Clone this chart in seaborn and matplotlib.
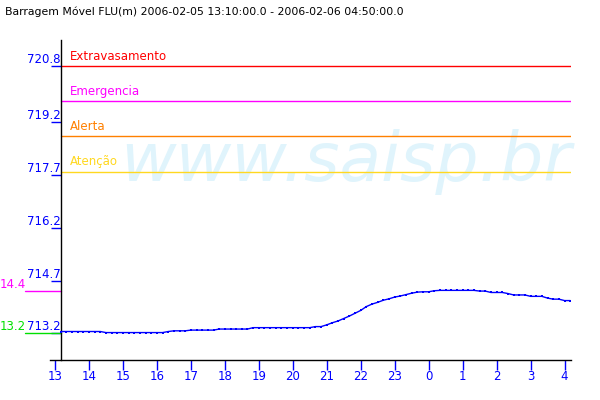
import matplotlib
matplotlib.use("Agg")
import matplotlib.pyplot as plt
import seaborn as sns
import pandas as pd
import numpy as np

# Chart data
title = "Barragem Móvel FLU(m) 2006-02-05 13:10:00.0 - 2006-02-06 04:50:00.0"

# water level (m), one reading every 10 min starting 13:10
levels = [
    713.25, 713.25, 713.25, 713.25, 713.25, 713.25, 713.25, 713.25,          # 13:10-14:20
    713.22, 713.22, 713.22, 713.22, 713.22, 713.22, 713.22, 713.22,          # 14:30-15:40
    713.22, 713.22, 713.22,                                                  # 15:50-16:10
    713.25, 713.27, 713.27, 713.27,                                          # 16:20-16:50
    713.29, 713.29, 713.29, 713.29, 713.29,                                  # 17:00-17:40
    713.32, 713.32, 713.32, 713.32, 713.32, 713.32,                          # 17:50-18:40
    713.36, 713.36, 713.36, 713.36, 713.36, 713.36, 713.36, 713.36, 713.36,  # 18:50-20:10
    713.36, 713.36,                                                          # 20:20-20:30
    713.39, 713.39,                                                          # 20:40-20:50
    713.44, 713.50, 713.55, 713.62, 713.69, 713.77,                          # 21:00-21:50
    713.85, 713.96, 714.03, 714.08, 714.14, 714.18,                          # 22:00-22:50
    714.23, 714.26, 714.30, 714.34, 714.37, 714.38,                          # 23:00-23:50
    714.38, 714.41, 714.42, 714.42, 714.42, 714.42, 714.42, 714.42,          # 00:00-01:10
    714.42, 714.40, 714.40,                                                  # 01:20-01:40
    714.36, 714.36, 714.36, 714.33, 714.29, 714.29, 714.29,                  # 01:50-02:50
    714.25, 714.25, 714.25, 714.20, 714.17, 714.17,                          # 03:00-03:50
    714.13, 714.13,                                                          # 04:00-04:10
]
start_hour = 13 + 10 / 60
step_hours = 10 / 60

alert_names = ["Extravasamento", "Emergencia", "Alerta", "Atenção"]
alert_values = [720.8, 719.8, 718.8, 717.8]
alert_colors = ["#ff0000", "#ff00ff", "#ff8000", "#ffd820"]

side_marks = ["14.4", "13.2"]
side_values = [714.4, 713.2]
side_colors = ["#ff00ff", "#00e000"]

y_ticks = [713.2, 714.7, 716.2, 717.7, 719.2, 720.8]
y_tick_labels = ["713.2", "714.7", "716.2", "717.7", "719.2", "720.8"]
x_ticks = list(range(13, 29))
x_tick_labels = [str(h % 24) for h in x_ticks]

df = pd.DataFrame({
    "hour": [start_hour + i * step_hours for i in range(len(levels))],
    "level": levels,
})

sns.set_style("white")
plt.rcParams["font.family"] = ["DejaVu Sans"]

fig = plt.figure(figsize=(6, 4), dpi=100)
ax = fig.add_axes([50 / 600, 40 / 400, 521 / 600, 320 / 400])

# watermark
ax.text(0.135, 0.56, "www.saisp.br", transform=ax.transAxes, fontsize=49,
        style="italic", color="#e0f4fc", ha="left", va="baseline", zorder=0)

blue = "#0000ff"
sns.lineplot(data=df, x="hour", y="level", ax=ax, color=blue, linewidth=1.0,
             marker="s", markersize=1.7, markeredgewidth=0, zorder=3)

x_left = 12.853
x_right = 28.19
ax.set_xlim(x_left, x_right)
ax.set_ylim(712.44, 721.54)

spine_frac = (start_hour - x_left) / (x_right - x_left)

for name, val, col in zip(alert_names, alert_values, alert_colors):
    ax.axhline(val, xmin=spine_frac, xmax=1.0, color=col, linewidth=1.0, zorder=2)
    ax.text(spine_frac + 0.018, val + 0.09, name, transform=ax.get_yaxis_transform(),
            color=col, fontsize=8.5, ha="left", va="bottom")

# short reference marks on the left
for lab, val, col in zip(side_marks, side_values, side_colors):
    ax.plot([-0.048, spine_frac], [val, val], transform=ax.get_yaxis_transform(),
            color=col, linewidth=1.0, clip_on=False, zorder=1)
    ax.text(-0.096, val, lab, transform=ax.get_yaxis_transform(), color=col,
            fontsize=8.5, ha="left", va="bottom", clip_on=False)

# axes styling
sns.despine(ax=ax, top=True, right=True)
ax.spines["left"].set_position(("data", start_hour))
ax.spines["left"].set_color("black")
ax.spines["bottom"].set_color("black")
ax.spines["left"].set_linewidth(1.0)
ax.spines["bottom"].set_linewidth(1.0)

ax.set_xticks(x_ticks)
ax.set_xticklabels(x_tick_labels)
ax.set_yticks(y_ticks)
ax.set_yticklabels(y_tick_labels)
ax.tick_params(axis="x", direction="out", length=7, width=1, color=blue,
               labelcolor=blue, labelsize=8.5, pad=0, bottom=True)
ax.tick_params(axis="y", direction="out", length=7, width=1, color=blue,
               labelcolor=blue, labelsize=8.5, pad=-7, left=True)
for lbl in ax.get_yticklabels():
    lbl.set_verticalalignment("bottom")

ax.set_xlabel("")
ax.set_ylabel("")
ax.grid(False)

fig.text(5 / 600, 1 - 12 / 400, title, fontsize=7.8, color="black",
         ha="left", va="center")

fig.savefig("out.png", dpi=100)
